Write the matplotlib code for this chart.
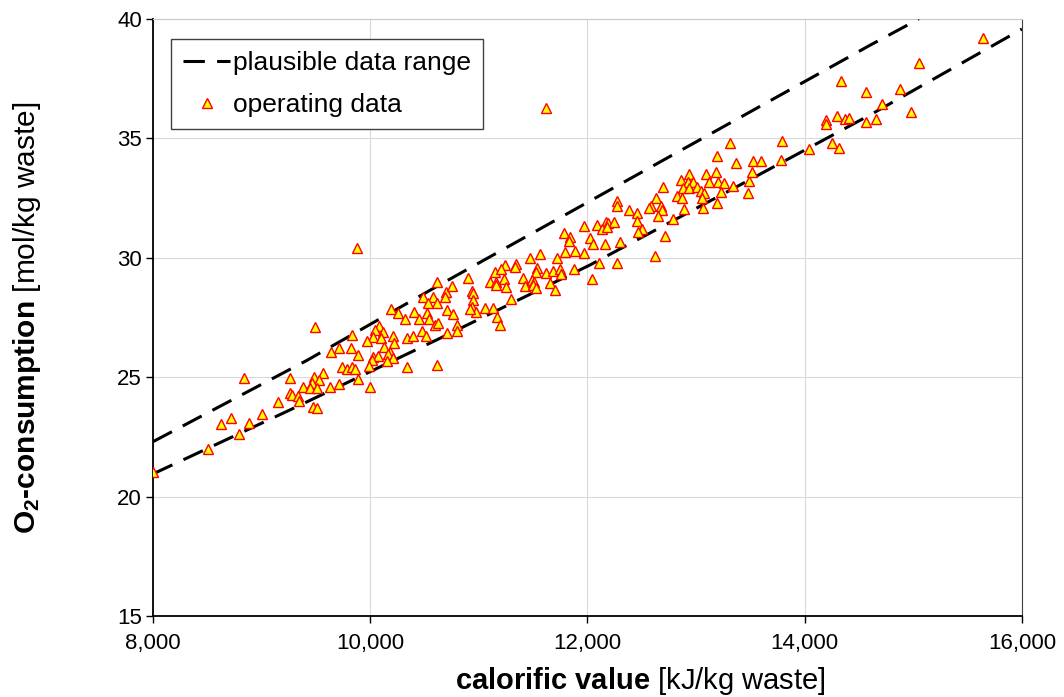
import matplotlib
matplotlib.use("Agg")
import matplotlib.pyplot as plt
from matplotlib.ticker import FuncFormatter, MultipleLocator

plt.rcParams['font.family'] = ['Liberation Sans', 'DejaVu Sans']
plt.rcParams['mathtext.fontset'] = 'custom'
plt.rcParams['mathtext.rm'] = 'Liberation Sans'
plt.rcParams['mathtext.bf'] = 'Liberation Sans:bold'
plt.rcParams['mathtext.it'] = 'Liberation Sans:italic'

# plausible data range
upper_x = [8000, 9415, 10612, 11716, 12820, 14600, 15050]
upper_y = [22.3, 25.7, 28.8, 31.6, 34.4, 38.9, 40.0]
lower_x = [8000, 9261, 10642, 12023, 13404, 14600, 16000]
lower_y = [20.95, 23.63, 26.63, 29.7, 33.05, 35.98, 39.58]

# operating data: calorific value [kJ/kg waste], O2 consumption [mol/kg waste]
calorific = [
    8000, 8509, 8795, 8623, 8715, 8880, 9006, 8841, 9154, 9261,
    10612, 10483, 10580, 10697, 10534, 10612, 10688, 10191, 10253, 10403,
    10520, 10704, 10320, 10449, 10543, 10596, 10626, 9491, 10083, 10044,
    10115, 10474, 10704, 9835, 10212, 10028, 10096, 10341, 10396, 10510,
    9967, 10221, 9712, 9823, 9639, 10129, 9884, 10182, 10028, 10074,
    10161, 10207, 10151, 10013, 9988, 9737, 9783, 9829, 9860, 10335,
    10612, 9568, 9482, 9531, 9261, 9890, 9461, 9384, 9445, 9507,
    9629, 9715, 9998, 9277, 9338, 9347, 9476, 9507,
    11968, 12084, 11786, 11839, 11830, 12023, 12053, 11793, 11885, 11968,
    11470, 11562, 11722, 11240, 11342, 11332, 11148, 11201, 11532, 11523,
    11618, 11685, 11747, 11756, 11878, 10903, 11409, 11231, 11102, 11158,
    11486, 11507, 11655, 12044, 11158, 11247, 11424, 11501, 11526, 10750,
    11701, 10939, 10943, 10943, 11296, 10934, 10971, 10918, 11056, 11133,
    10764, 11164, 10796, 10796, 11194,
    13195, 13364, 12861, 12937, 13091, 13183, 12922, 12974, 13121, 13198,
    13259, 13337, 13489, 12692, 12876, 12937, 13005, 13045, 13072, 13229,
    13480, 12826, 12867, 12628, 13051, 12269, 12269, 12582, 12676, 13189,
    12569, 12683, 12385, 12458, 12891, 13066, 12652, 12453, 12784, 12167,
    12191, 12244, 12131, 12177, 12499, 12467, 12161, 12299, 12713, 12108,
    12269, 12621,
    14708, 14195, 14195, 14294, 14370, 14408, 14564, 14656, 13788, 14248,
    14318, 14039, 13526, 13597, 13781, 13511,
    15643, 15054, 14877, 14975, 14334, 14564, 13312, 11618, 9875,
]
o2_consumption = [
    21.05, 21.98, 22.62, 23.04, 23.30, 23.10, 23.46, 24.95, 23.96, 24.35,
    29.00, 28.37, 28.35, 28.58, 28.09, 28.12, 28.35, 27.84, 27.70, 27.74,
    27.68, 27.81, 27.42, 27.42, 27.42, 27.19, 27.26, 27.11, 27.14, 26.98,
    26.89, 26.93, 26.86, 26.77, 26.74, 26.67, 26.65, 26.65, 26.72, 26.72,
    26.53, 26.42, 26.24, 26.21, 26.07, 26.28, 25.93, 26.07, 25.86, 25.89,
    25.97, 25.79, 25.68, 25.72, 25.47, 25.41, 25.33, 25.44, 25.33, 25.41,
    25.51, 25.16, 25.02, 24.88, 24.95, 24.92, 24.77, 24.60, 24.54, 24.54,
    24.58, 24.72, 24.58, 24.25, 24.21, 24.02, 23.76, 23.72,
    31.33, 31.37, 31.05, 30.88, 30.72, 30.82, 30.58, 30.26, 30.30, 30.19,
    30.00, 30.15, 30.00, 29.70, 29.73, 29.63, 29.42, 29.52, 29.56, 29.42,
    29.35, 29.46, 29.52, 29.31, 29.52, 29.14, 29.17, 29.10, 29.00, 29.00,
    29.07, 28.97, 28.96, 29.10, 28.86, 28.79, 28.83, 28.85, 28.72, 28.83,
    28.65, 28.62, 28.51, 28.23, 28.27, 27.93, 27.74, 27.84, 27.89, 27.89,
    27.65, 27.53, 27.19, 26.95, 27.19,
    34.26, 33.96, 33.26, 33.51, 33.51, 33.61, 33.19, 33.19, 33.19, 33.19,
    33.14, 33.01, 33.23, 32.98, 32.91, 32.91, 32.98, 32.80, 32.70, 32.77,
    32.73, 32.59, 32.52, 32.52, 32.52, 32.39, 32.17, 32.17, 32.17, 32.31,
    32.07, 32.00, 32.00, 31.89, 32.04, 32.07, 31.76, 31.55, 31.61, 31.51,
    31.44, 31.49, 31.21, 31.28, 31.21, 31.09, 30.58, 30.67, 30.91, 29.79,
    29.79, 30.08,
    36.44, 35.77, 35.60, 35.95, 35.80, 35.84, 35.67, 35.81, 34.89, 34.79,
    34.59, 34.54, 34.05, 34.05, 34.10, 33.61,
    39.19, 38.17, 37.07, 36.12, 37.40, 36.96, 34.82, 36.27, 30.42,
]

fig = plt.figure(figsize=(10.64, 6.97), dpi=100)
ax = fig.add_axes([0.1438, 0.1162, 0.8167, 0.8565])

dash = (0, (7, 4))
ax.plot(upper_x, upper_y, color='black', lw=2.2, linestyle=dash,
        label='plausible data range', zorder=3)
ax.plot(lower_x, lower_y, color='black', lw=2.2, linestyle=dash, zorder=3)
ax.plot(calorific, o2_consumption, linestyle='none', marker='^', ms=7,
        mfc='#FFFF00', mec='#FF0000', mew=1.0, label='operating data', zorder=4)

ax.set_xlim(8000, 16000)
ax.set_ylim(15, 40)
ax.xaxis.set_major_locator(MultipleLocator(2000))
ax.yaxis.set_major_locator(MultipleLocator(5))
ax.xaxis.set_major_formatter(FuncFormatter(lambda v, p: f"{int(v):,}"))
ax.grid(True, color='#d9d9d9', lw=0.8, zorder=0)
ax.set_axisbelow(True)

ax.tick_params(axis='both', direction='out', length=5, width=1,
               labelsize=16, colors='black')
ax.tick_params(axis='x', pad=7)
ax.tick_params(axis='y', pad=3)
for s in ['left', 'bottom']:
    ax.spines[s].set_color('black')
    ax.spines[s].set_linewidth(1.3)
ax.spines['top'].set_color('#c8c8c8')
ax.spines['right'].set_color('#404040')

leg = ax.legend(loc='upper left', bbox_to_anchor=(0.0207, 0.9665),
                borderaxespad=0, fontsize=19, frameon=True, fancybox=False,
                edgecolor='#404040', framealpha=1, numpoints=1,
                handlelength=1.8, handletextpad=0.1, borderpad=0.45,
                labelspacing=0.7)
leg.get_frame().set_linewidth(1.0)

fig.text(640 / 1064, 1 - 681 / 697,
         r"$\mathbf{calorific\ value}$ [kJ/kg waste]",
         ha='center', va='center', fontsize=21)
fig.text(27 / 1064, 1 - 318 / 697,
         "$\\mathbf{O_2}$$\\mathbf{\u2010consumption}$ [mol/kg waste]",
         ha='center', va='center', rotation=90, fontsize=21.5)

fig.savefig("out.png", dpi=100)
